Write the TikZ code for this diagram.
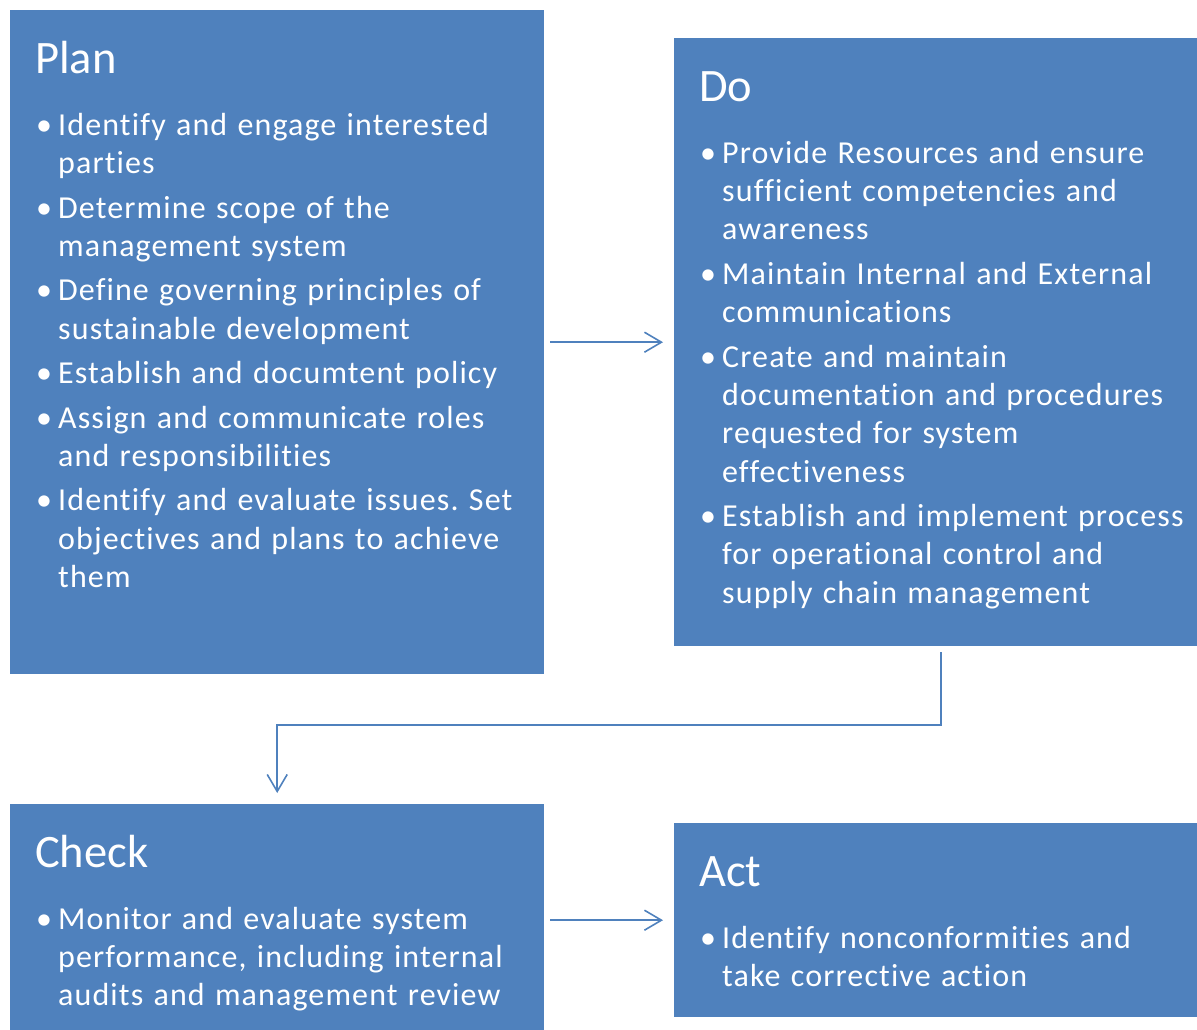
\documentclass[tikz,border=0pt]{standalone}
\usepackage{fontspec}
\setmainfont{Carlito}
\newfontfamily\itemfont{Carlito}[LetterSpace=3.5,Ligatures=NoCommon]
\usetikzlibrary{arrows.meta,calc}
\definecolor{pdcablue}{HTML}{4F81BD}
\newcommand{\phasehead}[1]{\fontsize{46.5}{56}\selectfont\rule{0pt}{63pt}#1\par
  \itemfont\fontsize{32}{38.3}\selectfont\frenchspacing\spaceskip=10.3pt plus 2pt minus 1pt
  \parskip=6.2pt\vspace{17.5pt}}
\newcommand{\phaseitem}[1]{\par\hangindent=23pt\hangafter=1\noindent
  \makebox[23pt][l]{\hspace{1pt}\textbullet}#1\par}

\begin{document}
\begin{tikzpicture}[x=1pt,y=-1pt,
    phase/.style={rectangle,fill=pdcablue,inner sep=0pt,anchor=north west,minimum width=534},
    phasetext/.style={text=white,text width=540,align=left,inner sep=0pt,anchor=north west},
    link/.style={draw=pdcablue,line width=1.6pt,->,shorten <=6pt,shorten >=11pt},
    >={Straight Barb[length=17pt,width=20pt,line width=1.6pt]}]
                \useasboundingbox (0,0) rectangle (1197,1029);
                \node[phase,minimum height=664] (plan) at (10,10) {};
                \node[phase,minimum height=608] (do) at (674,38) {};
                \node[phase,minimum height=232] (check) at (10,804) {};
                \node[phase,minimum height=194] (act) at (674,823) {};
                \node[phasetext] (plan text) at ([xshift=25pt]plan.north west) {%
                    \phasehead{Plan}
                    \phaseitem{Identify and engage interested\newline parties}
                    \phaseitem{Determine scope of the\newline management system}
                    \phaseitem{Define governing principles of\newline sustainable development}
                    \phaseitem{Establish and documtent policy}
                    \phaseitem{Assign and communicate roles\newline and responsibilities}
                    \phaseitem{Identify and evaluate issues. Set\newline objectives and plans to achieve\newline them}};
                \node[phasetext] (do text) at ([xshift=25pt]do.north west) {%
                    \phasehead{Do}
                    \phaseitem{Provide Resources and ensure\newline sufficient competencies and\newline awareness}
                    \phaseitem{Maintain Internal and External\newline communications}
                    \phaseitem{Create and maintain\newline documentation and procedures\newline requested for system\newline effectiveness}
                    \phaseitem{Establish and implement process\newline for operational control and\newline supply chain management}};
                \node[phasetext] (check text) at ([xshift=25pt]check.north west) {%
                    \phasehead{Check}
                    \phaseitem{Monitor and evaluate system\newline performance, including internal\newline audits and management review}};
                \node[phasetext] (act text) at ([xshift=25pt]act.north west) {%
                    \phasehead{Act}
                    \phaseitem{Identify nonconformities and\newline take corrective action}};
                \coordinate (turn) at ($(do.south)!0.5!(check.north)$);
                \draw[link] (plan.east) -- (do.west);
                \draw[link] (do.south) |- (turn) -| (check.north);
                \draw[link] (check.east |- act.west) -- (act.west);
            \end{tikzpicture}
\end{document}
